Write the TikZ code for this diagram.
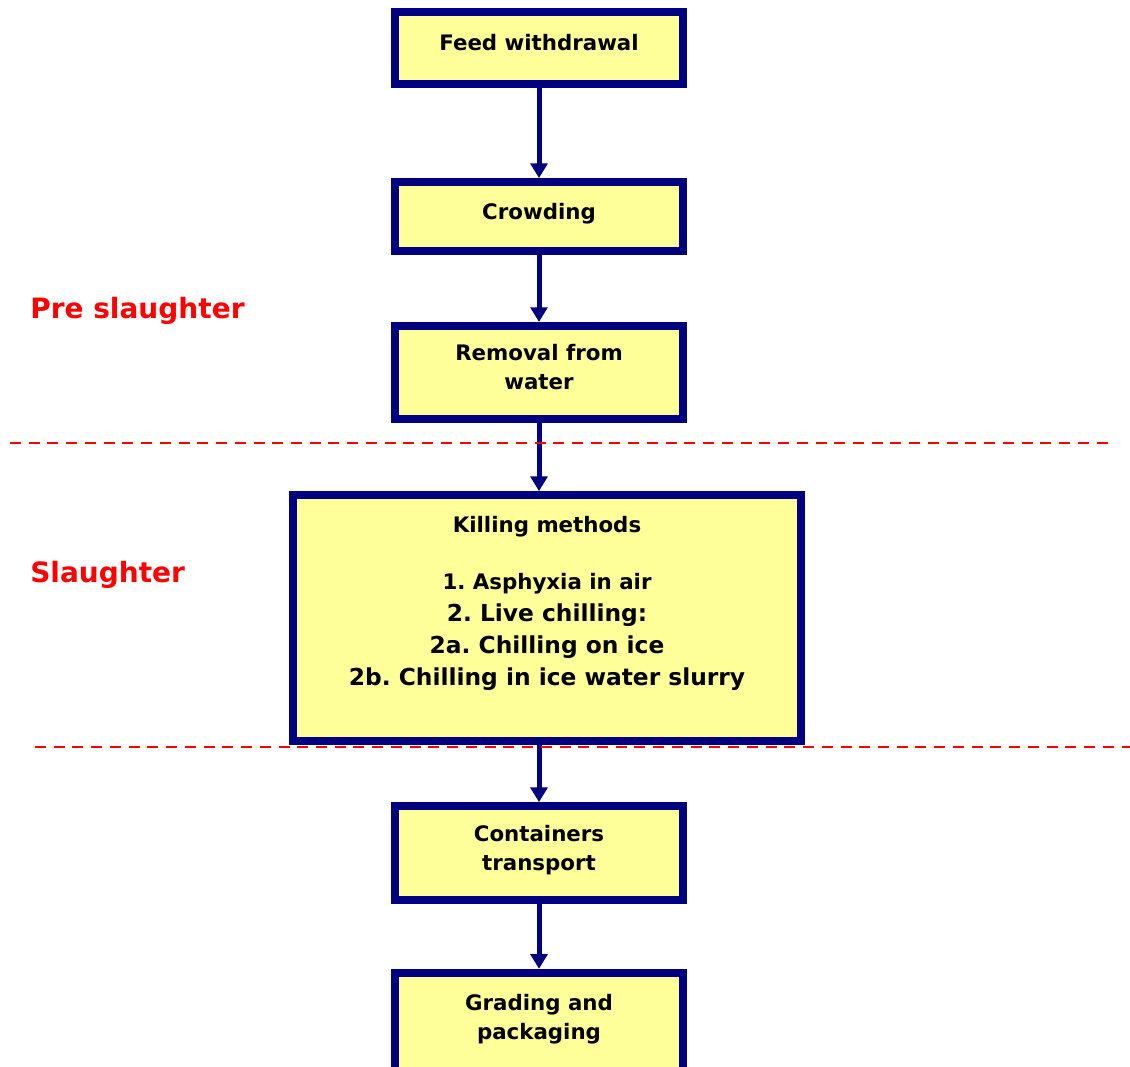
\documentclass[tikz,border=0pt]{standalone}
\usepackage{fontspec}
\setmainfont{DejaVu Sans}
\frenchspacing
\usetikzlibrary{arrows.meta}
\definecolor{boxblue}{RGB}{0,0,128}
\definecolor{boxyellow}{RGB}{255,255,153}
\tikzset{
    stage/.style={draw=boxblue, line width=5.8pt, fill=boxyellow, minimum width=215.6pt, align=center, font=\fontsize{16}{22}\selectfont\bfseries, text depth=8pt},
    flow/.style={draw=boxblue, line width=3.75pt, -{Triangle[length=11pt,width=12.5pt]}},
    divider/.style={draw=red, line width=2.2pt, dash pattern=on 8.25pt off 5.8pt},
    phase/.style={text=red, anchor=west, inner sep=0pt, font=\fontsize{21}{25}\selectfont\bfseries}
}

\begin{document}
\begin{tikzpicture}[x=0.75pt, y=-0.75pt]
    \useasboundingbox (0,0) rectangle (1130,1066);

    \node[stage, minimum height=54pt] (feed) at (539,48) {Feed withdrawal};
    \node[stage, minimum height=51.75pt] (crowd) at (539,216.5) {Crowding};
    \node[stage, minimum height=70pt] (removal) at (539,372.5) {Removal from\\water};
    \node[stage, minimum width=381pt, minimum height=184.5pt] (kill) at (547,618) {};
    \node[anchor=north, inner sep=0pt, align=center, font=\fontsize{16}{24}\selectfont\bfseries] (methods) at (547,516)
        {Killing methods\\[19pt]
         1. Asphyxia in air\\
         \fontsize{17.5}{24}\selectfont 2. Live chilling:\\
         \fontsize{17.5}{24}\selectfont 2a. Chilling on ice\\
         \fontsize{17.5}{24}\selectfont 2b. Chilling in ice water slurry};
    \node[stage, minimum height=70.5pt] (cont) at (539,853) {Containers\\transport};
    \node[stage, minimum height=74pt] (grade) at (539,1022) {Grading and\\packaging};

    \draw[flow] (feed) -- (crowd);
    \draw[flow] (crowd) -- (removal);
    \draw[flow] (removal) -- (removal |- kill.north);
    \draw[flow] (kill.south -| cont) -- (cont);
    \draw[flow] (cont) -- (grade);

    % phase boundaries
    \draw[divider] (10,443) -- (1115,443);
    \draw[divider] (35,747) -- (1130,747);

    \node[phase] (pre) at (30,311) {Pre slaughter};
    \node[phase] (slaughter) at (30,575) {Slaughter};
\end{tikzpicture}
\end{document}
